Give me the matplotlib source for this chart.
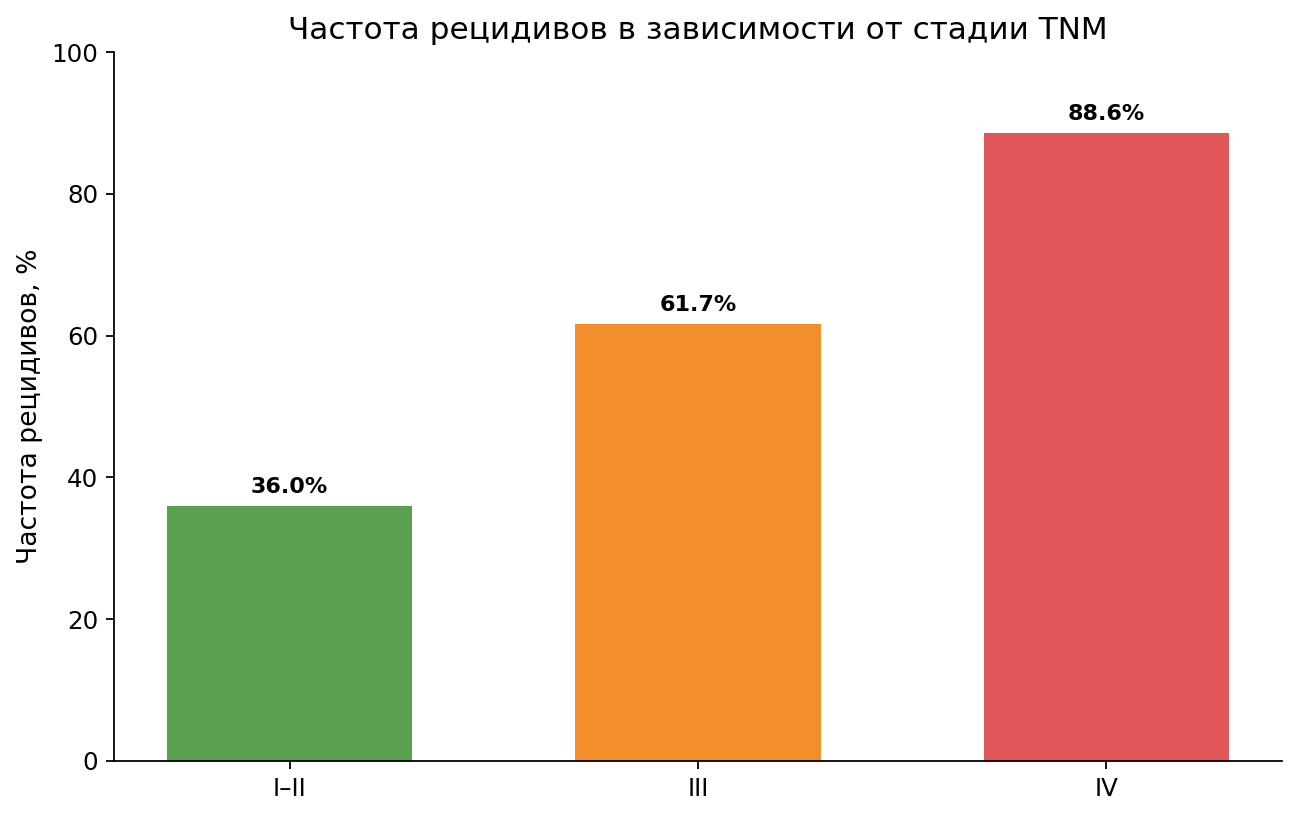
import matplotlib
matplotlib.use("Agg")
import matplotlib.pyplot as plt

categories = ["I–II", "III", "IV"]
values = [36.0, 61.7, 88.6]
colors = ["#59A14F", "#F28E2B", "#E15759"]
yticks = [0, 20, 40, 60, 80, 100]

dpi = 160
fig = plt.figure(figsize=(1298 / dpi, 817 / dpi), dpi=dpi)
ax = fig.add_axes([114 / 1298, 1 - 761 / 817, (1282 - 114) / 1298, (761 - 52) / 817])

x = range(len(categories))
bars = ax.bar(x, values, width=0.6, color=colors)
for b, v in zip(bars, values):
    ax.annotate(f"{v:.1f}%", (b.get_x() + b.get_width() / 2, v),
                xytext=(0, 4), textcoords="offset points",
                ha="center", va="bottom", fontsize=10, fontweight="bold")

ax.set_xticks(list(x))
ax.set_xticklabels(categories, fontsize=11)
ax.set_ylim(0, 100)
ax.set_yticks(yticks)
ax.tick_params(axis="y", labelsize=11)
ax.set_ylabel("Частота рецидивов, %", fontsize=12)
ax.set_title("Частота рецидивов в зависимости от стадии TNM", fontsize=14)
ax.spines["top"].set_visible(False)
ax.spines["right"].set_visible(False)

fig.savefig("out.png", dpi=dpi)
